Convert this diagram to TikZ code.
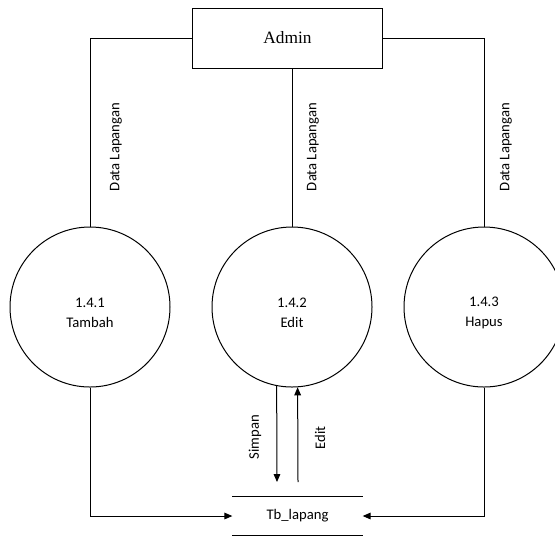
\documentclass[tikz,border=0pt]{standalone}
\usepackage{fontspec}
\setmainfont{Liberation Serif}
\newfontfamily\lblfont{Carlito}
\usetikzlibrary{arrows.meta}
\begin{document}
\begin{tikzpicture}[x=0.75pt,y=-0.75pt,line width=0.75pt,
  proc/.style={circle,draw,minimum size=120pt,inner sep=0pt},
  proctext/.style={align=center,inner sep=0pt,font=\lblfont\fontsize{11}{15}\selectfont},
  ext/.style={draw,minimum width=143pt,minimum height=45pt,inner sep=0pt,font=\fontsize{13}{15}\selectfont},
  store/.style={minimum width=97pt,minimum height=28.5pt,inner sep=0pt,font=\lblfont\fontsize{11}{13}\selectfont},
  flowlbl/.style={font=\lblfont\fontsize{11}{13}\selectfont,rotate=90,inner sep=1pt},
  flow/.style={-{Triangle[length=6pt,width=5pt]}}]
\useasboundingbox (0,0) rectangle (555,537);

% external entity
\node[ext] (admin) at (287.5,38) {Admin};

% processes
\node[proc] (p1) at (90,307) {};
\node[proc] (p2) at (292,307) {};
\node[proc] (p3) at (484,307) {};
\node[proctext] (t1) at (90,313) {1.4.1\\Tambah};
\node[proctext] (t2) at (292,313) {1.4.2\\Edit};
\node[proctext] (t3) at (484,313) {1.4.3\\Hapus};

% data store
\node[store] (tb) at (297.5,516) {Tb\_lapang};
\draw (tb.north west) -- (tb.north east);
\draw (tb.south west) -- (tb.south east);

% flows from the entity
\draw (admin.west) -| (p1.north);
\draw (p2.north) -- (p2.north |- admin.south);
\draw (admin.east) -| (p3.north);
\node[flowlbl] (l1) at (116,147) {Data Lapangan};
\node[flowlbl] (l2) at (313,147) {Data Lapangan};
\node[flowlbl] (l3) at (506,147) {Data Lapangan};

% flows to the data store
\draw[flow] (p1.south) |- (tb.west);
\draw[flow] (p3.south) |- (tb.east);

\coordinate (sEnd) at (277,482);
\coordinate (eStart) at (298,482);
\draw[flow] (p2.259.2) -- (sEnd);
\draw[flow] (eStart) -- (p2.274.3);
\node[flowlbl] (ls) at (255,437) {Simpan};
\node[flowlbl] (le) at (320,438) {Edit};
\end{tikzpicture}
\end{document}
